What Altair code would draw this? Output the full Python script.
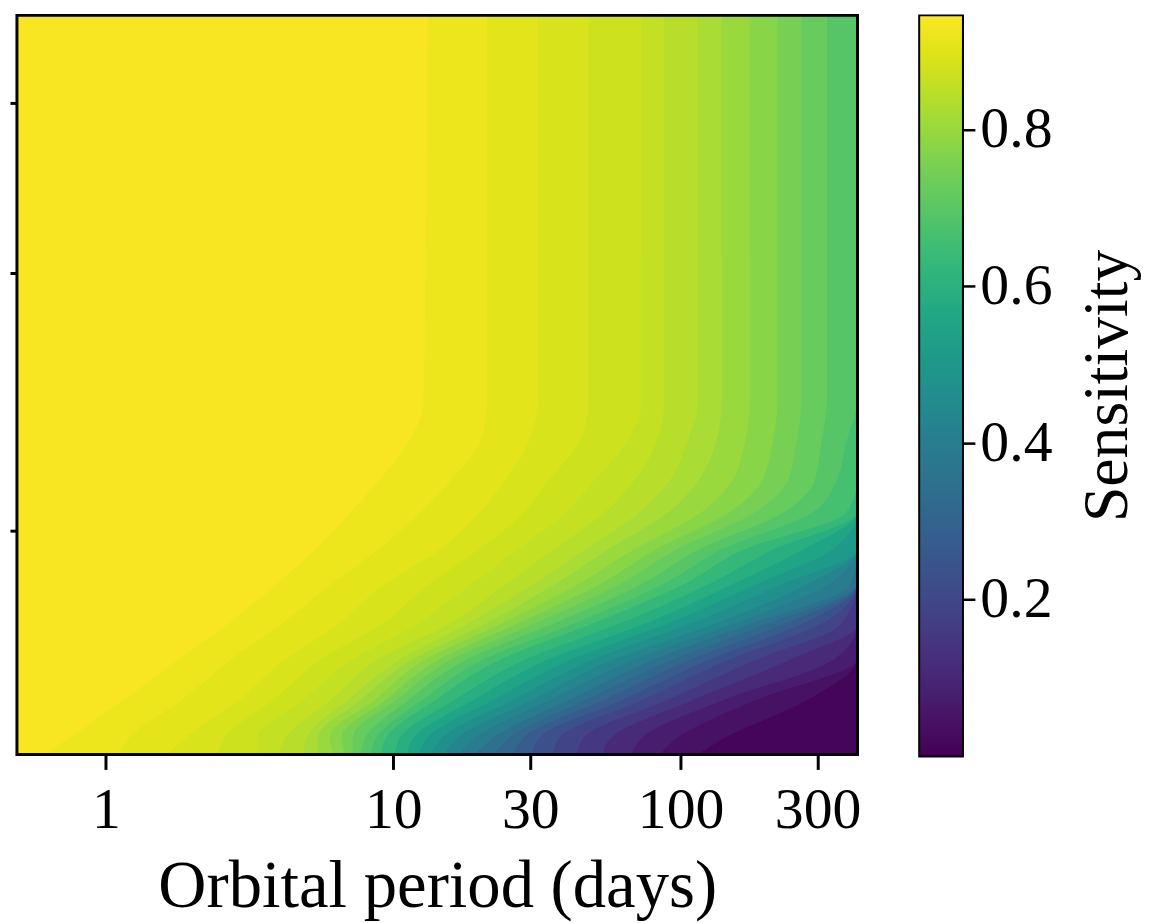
import altair as alt
import pandas as pd

FONT = "Liberation Serif"

period_min, period_max = 0.49, 413.0   # x extent of the image (days)
radius_min, radius_max = 0.3, 16.0     # y extent of the image (log axis, labels cropped)

x_tick_values = [1, 10, 30, 100, 300]
y_tick_values = [1, 4, 10]
cbar_tick_values = [0.2, 0.4, 0.6, 0.8]
sens_max = 0.946

# radius rows at which the contour crossings were read (top -> bottom)
radius_rows = [16, 2.0, 1.6, 1.3, 1.1, 0.9, 0.75, 0.6, 0.5, 0.4, 0.33, 0.3]

# sensitivity levels and the orbital period where each level is crossed on every radius row
levels = [0.93, 0.915, 0.90, 0.885, 0.87, 0.855, 0.835, 0.815, 0.79, 0.765, 0.74, 0.71, 0.68,
          0.65, 0.61, 0.57, 0.53, 0.49, 0.45, 0.41, 0.37, 0.33, 0.29, 0.25, 0.21, 0.17, 0.13,
          0.09, 0.055, 0.025]
top_value, bottom_value = 0.938, 0.01

c930 = [13.22, 12.8, 11.27, 8.87, 7.11, 5.37, 3.94, 2.62, 1.80, 1.145, 0.763, 0.615]
c915 = [21.3, 21.3, 20.0, 15.75, 12.4, 8.87, 6.15, 4.03, 2.75, 1.83, 1.22, 1.11]
c900 = [32.0, 32.0, 29.55, 24.4, 20.0, 14.54, 9.38, 6.35, 4.23, 2.885, 1.92, 1.65]
c885 = [48.05, 48.05, 44.4, 34.4, 28.6, 19.84, 13.4, 9.03, 5.635, 3.81, 2.60, 2.46]
c870 = [73.3, 73.3, 65.0, 49.6, 40.0, 27.07, 18.8, 11.92, 7.27, 4.84, 3.38, 3.38]
c855 = [88.0, 88.0, 82.6, 68.8, 54.6, 36.07, 24.9, 15.5, 8.87, 6.05, 4.26, 4.03]
c835 = [115.4, 115.4, 105.7, 91.6, 72.1, 46.54, 31.1, 17.88, 10.66, 6.93, 5.04, 4.88]
c815 = [139.8, 139.8, 133.2, 115.4, 90.9, 55.9, 36.9, 20.65, 11.73, 7.69, 5.50, 5.46]
c790 = [174.7, 174.7, 167.9, 151.3, 118.2, 68.8, 44.4, 23.27, 13.01, 8.60, 6.05, 6.20]
c765 = [218.3, 218.3, 209.8, 192.2, 147.8, 81.9, 52.8, 26.43, 14.54, 9.38, 6.66, 6.77]
c740 = [264.4, 264.4, 254.0, 236.4, 181.8, 96.9, 62.0, 30.27, 16.13, 10.24, 7.27, 7.27]
c710 = [325.2, 325.2, 310.0, 293.2, 229.0, 115.4, 73.9, 35.22, 18.18, 11.27, 8.07, 7.75]
c680 = [413, 413, 378.4, 349.4, 288.5, 138.7, 87.7, 41.29, 20.82, 12.6, 8.80, 8.39]
c650 = [413, 413, 413, 413, 378.4, 165.2, 103.6, 48.05, 23.84, 13.98, 9.53, 9.09]
c610 = [413, 413, 413, 413, 413, 209.8, 126.5, 59.6, 29.08, 16.26, 10.66, 10.16]
c570 = [413, 413, 413, 413, 413, 266.5, 153.8, 73.3, 34.94, 18.92, 11.92, 11.18]
c530 = [413, 413, 413, 413, 413, 338.4, 187.0, 88.0, 41.96, 22.18, 13.32, 12.30]
c490 = [413, 413, 413, 413, 413, 413, 228.0, 104.9, 50.0, 25.81, 15.02, 13.54]
c450 = [413, 413, 413, 413, 413, 413, 278.0, 128.0, 59.1, 30.27, 17.06, 15.13]
c410 = [413, 413, 413, 413, 413, 413, 330.4, 148.9, 69.9, 34.94, 19.53, 17.06]
c370 = [413, 413, 413, 413, 413, 413, 393.8, 170.5, 81.9, 40.64, 22.72, 19.38]
c330 = [413, 413, 413, 413, 413, 413, 413, 195.3, 95.3, 46.54, 25.81, 22.54]
c290 = [413, 413, 413, 413, 413, 413, 413, 225.4, 110.0, 53.7, 28.85, 26.23]
c250 = [413, 413, 413, 413, 413, 413, 413, 260.2, 128.0, 62.5, 32.77, 30.51]
c210 = [413, 413, 413, 413, 413, 413, 413, 305.1, 150.1, 73.3, 38.45, 36.07]
c170 = [413, 413, 413, 413, 413, 413, 413, 360.7, 186.2, 89.5, 46.54, 43.67]
c130 = [413, 413, 413, 413, 413, 413, 413, 413, 244.1, 110.0, 58.2, 53.7]
c090 = [413, 413, 413, 413, 413, 413, 413, 413, 343.9, 139.8, 74.5, 67.7]
c055 = [413, 413, 413, 413, 413, 413, 413, 413, 413, 181.8, 99.2, 85.3]
c025 = [413, 413, 413, 413, 413, 413, 413, 413, 413, 275.0, 146.6, 115.4]

contours = [c930, c915, c900, c885, c870, c855, c835, c815, c790, c765, c740, c710, c680,
            c650, c610, c570, c530, c490, c450, c410, c370, c330, c290, c250, c210, c170,
            c130, c090, c055, c025]

# filled-contour bands: band k lies between contour k-1 and contour k
left_edge = [period_min] * len(radius_rows)
right_edge = [period_max] * len(radius_rows)
bounds = [left_edge] + contours + [right_edge]
band_values = [top_value] + [(levels[k] + levels[k + 1]) / 2 for k in range(len(levels) - 1)] + [bottom_value]

records = []
for k in range(len(bounds) - 1):
    for i, r in enumerate(radius_rows):
        records.append({"band": k, "radius": r, "lo": bounds[k][i], "hi": bounds[k + 1][i],
                        "sensitivity": band_values[k]})
bands_df = pd.DataFrame(records)

color_scale = alt.Scale(scheme="viridis", domain=[0, sens_max])
x_scale = alt.Scale(type="log", domain=[period_min, period_max], nice=False)
y_scale = alt.Scale(type="log", domain=[radius_min, radius_max], nice=False)

bands = alt.Chart(bands_df).mark_area(orient="horizontal", interpolate="monotone",
                                      strokeWidth=1.2, clip=True).encode(
    y=alt.Y("radius:Q", scale=y_scale,
            axis=alt.Axis(values=y_tick_values, labels=False, title=None,
                          tickSize=7, tickWidth=3)),
    x=alt.X("lo:Q", scale=x_scale,
            axis=alt.Axis(values=x_tick_values, format="d", title="Orbital period (days)",
                          tickSize=15, tickWidth=3, labelFontSize=58, labelPadding=12,
                          labelFlush=False, labelOverlap=False, labelBound=False,
                          titleFontSize=67, titleY=153, titleBaseline="alphabetic")),
    x2="hi:Q",
    color=alt.Color("sensitivity:Q", scale=color_scale, legend=None),
    stroke=alt.Stroke("sensitivity:Q", scale=color_scale, legend=None),
    detail="band:N",
)

frame = alt.Chart(pd.DataFrame({"frame": [0]})).mark_rect(
    fillOpacity=0, stroke="black", strokeWidth=3
).encode(x=alt.value(0), x2=alt.value("width"), y=alt.value(0), y2=alt.value("height"))

heat = alt.layer(bands, frame).properties(width=845, height=743)

viridis_stops = ["#440154", "#471365", "#482475", "#463480", "#414487", "#3b528b", "#355f8d",
                 "#2f6c8e", "#2a788e", "#25848e", "#21918c", "#1e9c89", "#22a884", "#2fb47c",
                 "#44bf70", "#5ec962", "#7ad151", "#9bd93c", "#bddf26", "#dfe318", "#fde725"]
gradient = alt.LinearGradient(
    gradient="linear",
    stops=[alt.GradientStop(color=c, offset=k / (len(viridis_stops) - 1)) for k, c in enumerate(viridis_stops)],
    x1=0, x2=0, y1=1, y2=0,
)
cbar_df = pd.DataFrame({"lo": [0.0], "hi": [sens_max]})
cbar = alt.Chart(cbar_df).mark_rect(color=gradient, stroke="black", strokeWidth=2).encode(
    x=alt.value(0),
    x2=alt.value("width"),
    y=alt.Y("lo:Q", scale=alt.Scale(domain=[0, sens_max], nice=False, zero=False),
            axis=alt.Axis(orient="right", values=cbar_tick_values, format=".1f",
                          title="Sensitivity", tickSize=12, tickWidth=2.5,
                          labelFontSize=58, labelPadding=5,
                          titleFontSize=64, titleAngle=270, titleX=164, titleY=372,
                          titleBaseline="alphabetic", titleAlign="center")),
    y2="hi:Q",
).properties(width=44, height=745)

chart = alt.hconcat(heat, cbar, spacing=62, bounds="flush").properties(
    padding={"left": 0, "top": 3, "right": 5, "bottom": 0}
).configure_view(
    stroke=None
).configure_axis(
    grid=False, domain=False, tickColor="black", labelColor="black", titleColor="black",
    labelFont=FONT, titleFont=FONT, labelFontWeight="normal", titleFontWeight="normal"
)

chart.save("out.html", embed_options={"renderer": "svg", "actions": False})
